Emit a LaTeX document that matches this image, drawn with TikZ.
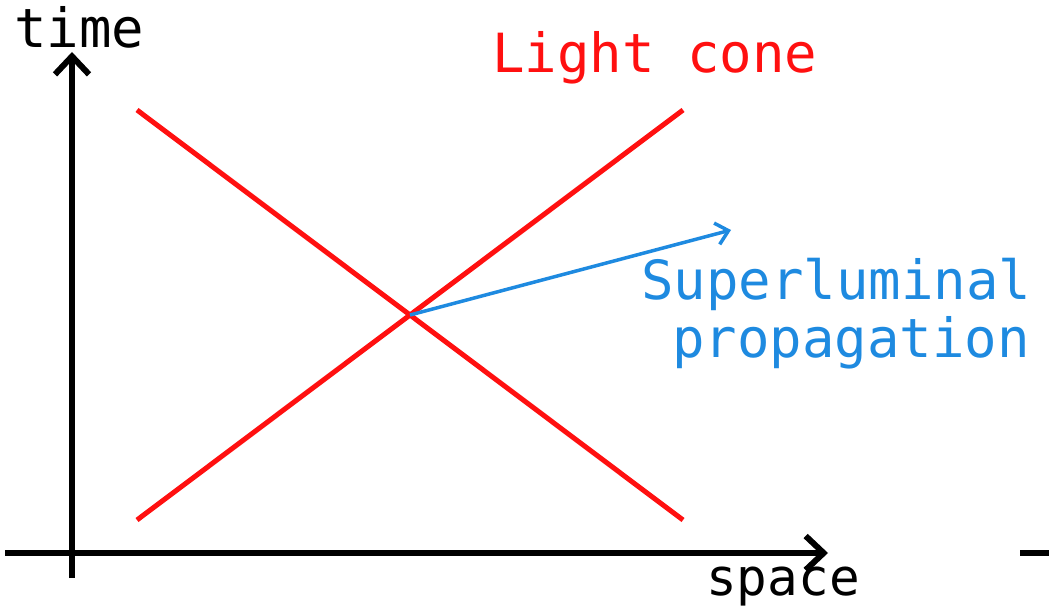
\documentclass[tikz,border=0pt]{standalone}
\usepackage{fontspec}
\setmonofont{DejaVu Sans Mono}
\usetikzlibrary{arrows.meta}
\definecolor{conered}{HTML}{FF1010}
\definecolor{fastblue}{HTML}{1E8AE0}
\tikzset{
  st axis/.style={line width=6pt, black, -{Straight Barb[length=18pt, width=34pt, line width=6pt]}},
  st cone/.style={line width=5pt, conered},
  st fast/.style={line width=3.5pt, fastblue, -{Straight Barb[length=12pt, width=22pt, line width=3.5pt]}},
  st lbl/.style={font=\fontsize{54}{57}\selectfont\ttfamily, inner sep=0pt, anchor=base west},
}
\begin{document}
\begin{tikzpicture}[x=1pt, y=-1pt]
  \useasboundingbox (0,0) rectangle (1049,609);
  % axes
  \coordinate (tbot) at (72,578);
  \coordinate (ttop) at (72,52);
  \coordinate (sleft) at (5,553);
  \coordinate (sright) at (828,553);
  \draw[st axis] (tbot) -- (ttop);
  \draw[st axis] (sleft) -- (sright);
  \node[st lbl] (tlab) at (14,48) {time};
  \node[st lbl, font=\fontsize{51}{54}\selectfont\ttfamily] (slab) at (706,595) {space};
  % light cone
  \coordinate (ul) at (137,110);
  \coordinate (ur) at (683,110);
  \coordinate (ll) at (137,520);
  \coordinate (lr) at (683,520);
  \draw[st cone] (ul) -- (lr);
  \draw[st cone] (ll) -- (ur);
  \node[st lbl, text=conered] (clab) at (492,73) {Light cone};
  % superluminal signal
  \coordinate (ev) at (410,315);
  \coordinate (fast) at (731,230);
  \draw[st fast] (ev) -- (fast);
  \node[st lbl, text=fastblue] (flab) at (641,300) {Superluminal};
  \node[st lbl, text=fastblue] (flab2) at (672,357) {propagation};
  % edge of the next panel
  \coordinate (na) at (1020,553);
  \coordinate (nb) at (1049,553);
  \draw[line width=6pt] (na) -- (nb);
\end{tikzpicture}
\end{document}
